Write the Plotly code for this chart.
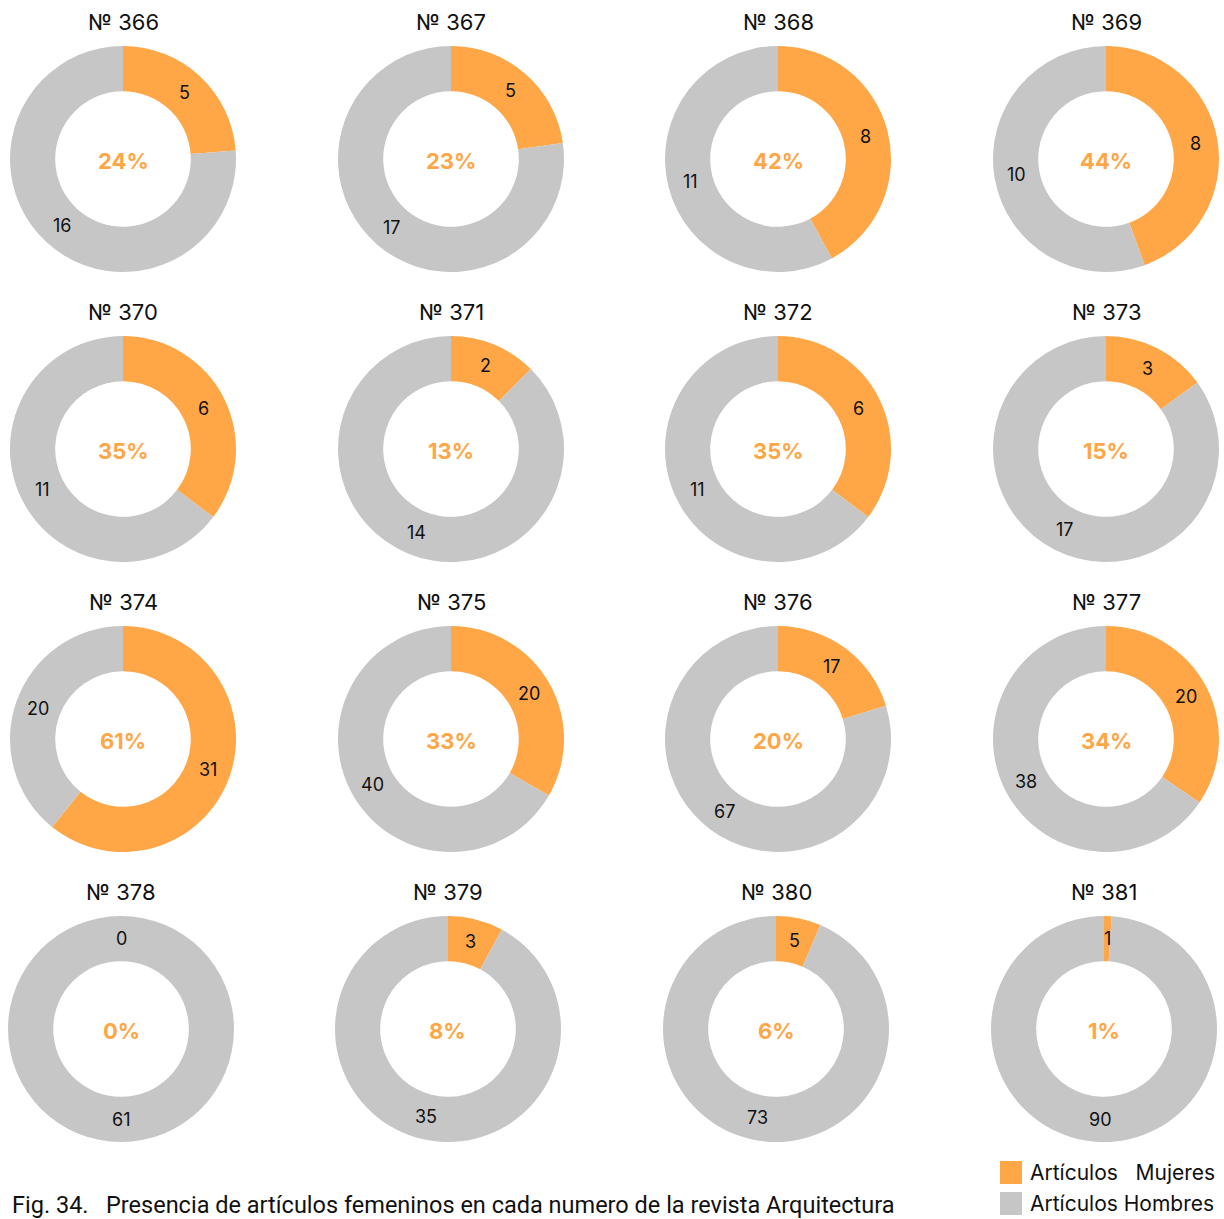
import math
import plotly.graph_objects as go

# ---- data ----
issues = ["№ 366", "№ 367", "№ 368", "№ 369",
          "№ 370", "№ 371", "№ 372", "№ 373",
          "№ 374", "№ 375", "№ 376", "№ 377",
          "№ 378", "№ 379", "№ 380", "№ 381"]
mujeres = [5, 5, 8, 8, 6, 2, 6, 3, 31, 20, 17, 20, 0, 3, 5, 1]
hombres = [16, 17, 11, 10, 11, 14, 11, 17, 20, 40, 67, 38, 61, 35, 73, 90]
series_labels = ["Artículos\u00a0\u00a0\u00a0Mujeres", "Artículos Hombres"]
caption = "Fig. 34.\u00a0\u00a0\u00a0Presencia de artículos femeninos en cada numero de la revista Arquitectura"

# ---- layout / style ----
W, H = 1224, 1219
ORANGE = "#FFA646"
GRAY = "#C6C6C6"
FONT = "Inter, Noto Sans, DejaVu Sans, sans-serif"
col_x = [[123, 451, 778, 1106]] * 3 + [[121, 448, 776, 1104]]
row_y = [159, 449, 739, 1029]
R_OUT = 113
HOLE = 0.6
R_LAB = R_OUT * (1 + HOLE) / 2

def px(x):
    return x / W

def py(y):
    return 1 - y / H

fig = go.Figure()
ann = []
for i, name in enumerate(issues):
    r, c = divmod(i, 4)
    cx, cy = col_x[r][c], row_y[r]
    fig.add_trace(go.Pie(
        values=[mujeres[i], hombres[i]],
        labels=series_labels,
        hole=HOLE, sort=False, direction="clockwise", rotation=0,
        marker=dict(colors=[ORANGE, GRAY], line=dict(width=0)),
        textinfo="none", hoverinfo="label+value", showlegend=False,
        domain=dict(x=[px(cx - R_OUT), px(cx + R_OUT)],
                    y=[py(cy + R_OUT), py(cy - R_OUT)]),
    ))
    total = mujeres[i] + hombres[i]
    fm = mujeres[i] / total
    # value labels at slice mid-angles
    for frac_mid, val in [(fm / 2, mujeres[i]), (fm + (1 - fm) / 2, hombres[i])]:
        ang = 2 * math.pi * frac_mid
        lx = cx + R_LAB * math.sin(ang)
        ly = cy - R_LAB * math.cos(ang)
        ann.append(dict(x=px(lx), y=py(ly), xref="paper", yref="paper",
                        text=str(val), showarrow=False,
                        font=dict(family=FONT, size=18, color="#111111"),
                        xanchor="center", yanchor="middle"))
    # percentage in the hole
    pct = int(math.floor(100 * fm + 0.5))
    ann.append(dict(x=px(cx), y=py(cy + 2), xref="paper", yref="paper",
                    text="<b>%d%%</b>" % pct, showarrow=False,
                    font=dict(family=FONT, size=22, color=ORANGE),
                    xanchor="center", yanchor="middle"))
    # issue title
    ann.append(dict(x=px(cx), y=py(cy - 137), xref="paper", yref="paper",
                    text=name, showarrow=False,
                    font=dict(family=FONT, size=22, color="#111111"),
                    xanchor="center", yanchor="middle"))

# legend
shapes = []
for k, (lab, col) in enumerate(zip(series_labels, [ORANGE, GRAY])):
    y0 = 1161 + k * 31
    shapes.append(dict(type="rect", xref="paper", yref="paper",
                       x0=px(1000), x1=px(1022), y0=py(y0 + 23), y1=py(y0),
                       fillcolor=col, line=dict(width=0)))
    ann.append(dict(x=px(1028), y=py(y0 + 11), xref="paper", yref="paper",
                    text=lab, showarrow=False,
                    font=dict(family=FONT, size=21, color="#111111"),
                    xanchor="left", yanchor="middle"))

# caption
ann.append(dict(x=px(10), y=py(1205), xref="paper", yref="paper",
                text=caption, showarrow=False,
                font=dict(family="Liberation Sans Narrow, Roboto, sans-serif", size=23.5, color="#111111"),
                xanchor="left", yanchor="middle"))

fig.update_layout(width=W, height=H, margin=dict(l=0, r=0, t=0, b=0),
                  paper_bgcolor="white", plot_bgcolor="white",
                  annotations=ann, shapes=shapes, showlegend=False)
fig.write_html("out.html", config={"displayModeBar": False},
               post_script="document.body.style.margin='0';document.body.style.overflow='hidden';")
